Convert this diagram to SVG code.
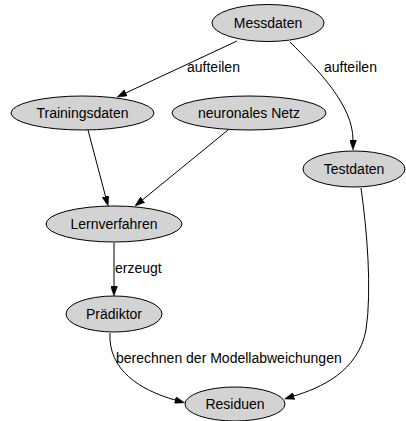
<svg xmlns="http://www.w3.org/2000/svg" width="406" height="421" viewBox="0 0 406 421">
<style>
.node ellipse{fill:#d3d3d3;stroke:#000;stroke-width:1}
text{font-family:"Liberation Sans",Arial,sans-serif;font-size:14px;fill:#000}
.node text{text-anchor:middle}
.edges path{fill:none;stroke:#000;stroke-width:1;marker-end:url(#arr)}
</style>
<defs>
<marker id="arr" viewBox="0 0 10 7" refX="0" refY="3.5" markerWidth="10" markerHeight="7" markerUnits="userSpaceOnUse" orient="auto">
<path d="M0,0 L10,3.5 L0,7 Z" fill="#000" stroke="#000" stroke-width="0.5"/>
</marker>
</defs>
<rect width="406" height="421" fill="#fff"/>
<g class="edges" id="edges">
<path d="M237,41 L126.1,92.8"/>
<path d="M290,42 C318,70 353,105 353,140"/>
<path d="M88,130 L105.5,196.3"/>
<path d="M228,130 L142.7,199.7"/>
<path d="M114,243 L114,286"/>
<path d="M110,333 C108,370 140,390 175,400"/>
<path d="M361,188 C367,230 372,290 366,330 C358,372 320,388 294,396"/>
<text x="187" y="72">aufteilen</text>
<text x="324" y="72">aufteilen</text>
<text x="115" y="273">erzeugt</text>
<text x="116" y="363">berechnen der Modellabweichungen</text>
</g>
<g class="node" id="messdaten"><ellipse cx="268" cy="23" rx="56" ry="18.5"/><text x="268" y="28">Messdaten</text></g>
<g class="node" id="trainingsdaten"><ellipse cx="82.5" cy="113" rx="71.5" ry="17"/><text x="82.5" y="118">Trainingsdaten</text></g>
<g class="node" id="neuronalesnetz"><ellipse cx="249" cy="113" rx="77" ry="17"/><text x="249" y="118">neuronales Netz</text></g>
<g class="node" id="testdaten"><ellipse cx="354" cy="169" rx="51" ry="18"/><text x="354" y="174">Testdaten</text></g>
<g class="node" id="lernverfahren"><ellipse cx="114" cy="224" rx="68" ry="18"/><text x="114" y="229">Lernverfahren</text></g>
<g class="node" id="praediktor"><ellipse cx="114" cy="314" rx="48" ry="18"/><text x="114" y="319">Prädiktor</text></g>
<g class="node" id="residuen"><ellipse cx="235" cy="404" rx="50" ry="17"/><text x="235" y="409">Residuen</text></g>
</svg>
